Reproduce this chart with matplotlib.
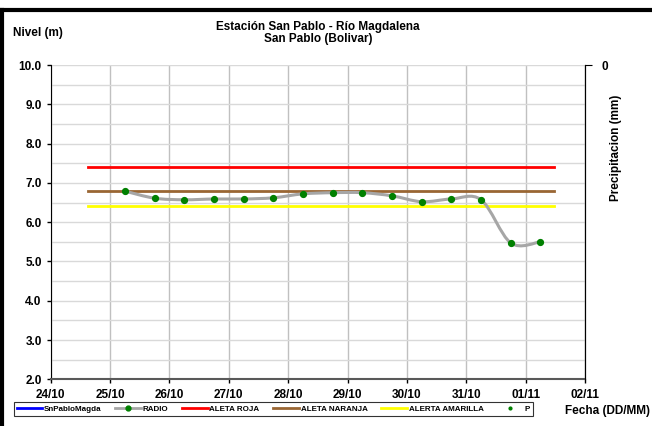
import numpy as np
import matplotlib
matplotlib.use("Agg")
import matplotlib.pyplot as plt
import matplotlib.dates as mdates
from matplotlib.path import Path
from matplotlib.patches import PathPatch
from matplotlib.lines import Line2D
from datetime import datetime, timedelta

plt.rcParams['font.family'] = ['Liberation Sans', 'DejaVu Sans']
plt.rcParams['font.weight'] = 'bold'

# Level readings (every 12 h starting 25/10 06:00)
radio_start = datetime(2020, 10, 25, 6, 0)
radio_levels = [6.79, 6.61, 6.57, 6.59, 6.59, 6.62, 6.72, 6.75, 6.75,
                6.67, 6.52, 6.59, 6.57, 5.47, 5.50]

# Alert thresholds
alert_start = datetime(2020, 10, 24, 15, 0)
alert_end = datetime(2020, 11, 1, 11, 30)
alerta_roja = 7.4
alerta_naranja = 6.8
alerta_amarilla = 6.4

x_ticks = [datetime(2020, 10, 24) + timedelta(days=i) for i in range(10)]
y_ticks = [2.0, 3.0, 4.0, 5.0, 6.0, 7.0, 8.0, 9.0, 10.0]


def smooth_path(xs, ys):
    """Bezier path through the points, like an Excel smoothed line."""
    pts = np.column_stack([xs, ys])
    n = len(pts)
    verts = [pts[0]]
    codes = [Path.MOVETO]
    for i in range(n - 1):
        p0 = pts[max(i - 1, 0)]
        p1 = pts[i]
        p2 = pts[i + 1]
        p3 = pts[min(i + 2, n - 1)]
        c1 = p1 + (p2 - p0) / 6.0
        c2 = p2 - (p3 - p1) / 6.0
        verts += [c1, c2, p2]
        codes += [Path.CURVE4] * 3
    return Path(verts, codes)


fig = plt.figure(figsize=(6.52, 4.26), dpi=100)
ax = fig.add_axes([0.0778, 0.1096, 0.8194, 0.7378])

radio_times = [radio_start + timedelta(hours=12 * i) for i in range(len(radio_levels))]
rx = mdates.date2num(radio_times)

# threshold lines
ax.plot([alert_start, alert_end], [alerta_roja] * 2, color="#ff0000", lw=2, zorder=3)
ax.plot([alert_start, alert_end], [alerta_naranja] * 2, color="#996633", lw=2, zorder=3)
ax.plot([alert_start, alert_end], [alerta_amarilla] * 2, color="#ffff00", lw=2, zorder=3)

# smoothed radio line
patch = PathPatch(smooth_path(rx, radio_levels), facecolor="none",
                  edgecolor="#a6a6a6", lw=2.2, transform=ax.transData, zorder=4)
ax.add_patch(patch)
ax.plot(rx, radio_levels, ls="none", marker="o", ms=4.2, color="#008000", zorder=5)

ax.set_xlim(x_ticks[0], x_ticks[-1])
ax.set_ylim(2.0, 10.0)
ax.set_xticks(x_ticks)
ax.xaxis.set_major_formatter(mdates.DateFormatter("%d/%m"))
ax.set_yticks(y_ticks)
ax.set_yticklabels(["%.1f" % v for v in y_ticks])
ax.set_yticks(np.arange(2.5, 10.0, 1.0), minor=True)

ax.grid(axis="x", which="major", color="#c0c0c0", lw=1)
ax.grid(axis="y", which="both", color="#d9d9d9", lw=1)
ax.set_axisbelow(True)
ax.tick_params(axis="y", which="minor", length=0)
ax.tick_params(axis="both", which="major", labelsize=8.5, direction="out", length=3,
               width=1)
ax.tick_params(axis="x", pad=4)
for lab in ax.get_xticklabels() + ax.get_yticklabels():
    lab.set_fontweight("bold")
ax.spines["top"].set_visible(False)
ax.spines["left"].set_color("black")
ax.spines["bottom"].set_color("#595959")
ax.spines["bottom"].set_linewidth(1.5)
ax.spines["right"].set_color("black")

# secondary axis for precipitation
ax2 = ax.twinx()
ax2.set_ylim(1, 0)
ax2.set_yticks([0])
ax2.set_yticklabels(["0"], fontweight="bold")
ax2.tick_params(axis="y", labelsize=8.5, direction="out", length=5, pad=7)
ax2.set_ylabel("Precipitacion (mm)", fontsize=8.5, fontweight="bold")
ax2.yaxis.set_label_coords(1.047, 0.736)
for s in ["top", "left", "bottom"]:
    ax2.spines[s].set_visible(False)

fig.text(0.488, 0.922, "Estación San Pablo - Río Magdalena\nSan Pablo (Bolivar)",
         ha="center", va="center", fontsize=8.5, fontweight="bold", linespacing=1.0)
fig.text(0.02, 0.922, "Nivel (m)", ha="left", va="center", fontsize=8.5, fontweight="bold")
fig.text(0.997, 0.035, "Fecha (DD/MM)", ha="right", va="center", fontsize=8.5,
         fontweight="bold")

handles = [
    Line2D([], [], color="#0000ff", lw=2),
    Line2D([], [], color="#a6a6a6", lw=2, marker="o", ms=3.5, mfc="#008000", mec="#008000"),
    Line2D([], [], color="#ff0000", lw=2),
    Line2D([], [], color="#996633", lw=2),
    Line2D([], [], color="#ffff00", lw=2),
    Line2D([], [], ls="none", marker="o", ms=2, color="#008000"),
]
labels = ["SnPabloMagda", "RADIO", "ALETA ROJA", "ALETA NARANJA", "ALERTA AMARILLA", "P"]
leg = fig.legend(handles, labels, loc="center left", bbox_to_anchor=(0.015, 0.04),
                 ncol=6, fontsize=5.8, frameon=True, fancybox=False,
                 edgecolor="black", handlelength=3.2, handletextpad=0.2,
                 columnspacing=1.7, borderpad=0.35)
leg.get_frame().set_linewidth(0.8)
for t in leg.get_texts():
    t.set_fontweight("bold")

# outer chart border (left and top edges visible)
fig.add_artist(Line2D([0.003, 0.003], [0.0, 0.977], color="black", lw=3,
                      transform=fig.transFigure))
fig.add_artist(Line2D([0.0, 1.0], [0.977, 0.977], color="black", lw=3,
                      transform=fig.transFigure))

fig.savefig("out.png", dpi=100)
